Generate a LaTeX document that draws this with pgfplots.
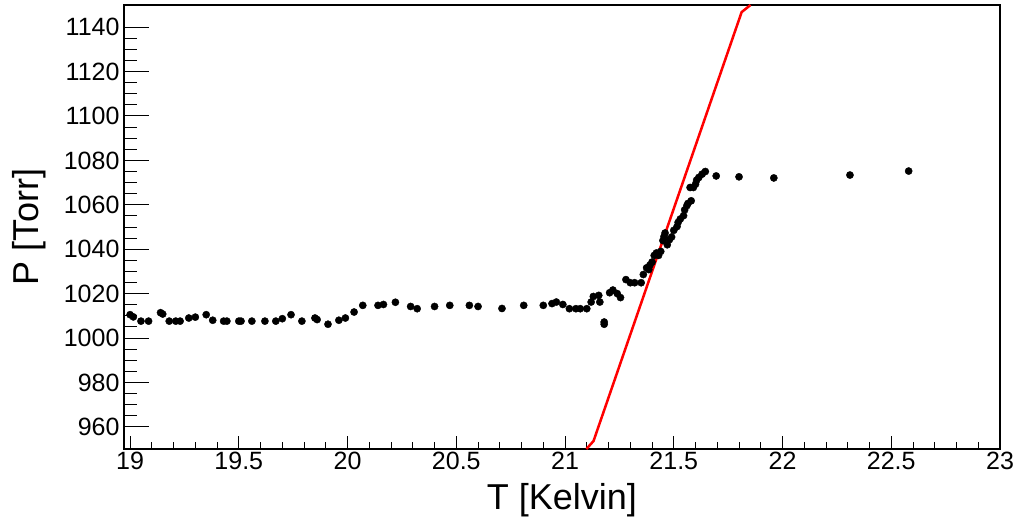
\documentclass[border=0pt]{standalone}
\usepackage{pgfplots}
\pgfplotsset{compat=1.18}
\usepackage{fontspec}
\setmainfont{Liberation Sans}
\begin{document}
\begin{tikzpicture}
\path[use as bounding box] (-124pt,-76pt) rectangle (894pt,449pt);
\begin{axis}[
  at={(0,0)}, anchor=south west,
  scale only axis, width=876pt, height=444pt,
  xmin=18.972, xmax=23, ymin=950, ymax=1150,
  xtick={19,19.5,...,23}, minor x tick num=4,
  ytick={960,980,...,1140}, minor y tick num=3,
  xticklabels={19,19.5,20,20.5,21,21.5,22,22.5,23},
  scaled ticks=false,
  /pgf/number format/assume math mode=true,
  /pgf/number format/1000 sep={},
  tick align=inside, xtick pos=bottom, ytick pos=left,
  x tick style={/pgfplots/major tick length=13pt,/pgfplots/minor tick length=7pt, line width=1pt, black},
  y tick style={/pgfplots/major tick length=25pt,/pgfplots/minor tick length=13pt, line width=1pt, black},
  axis line style={line width=1.5pt},
  tick label style={font=\fontsize{25}{29}\selectfont},
  xticklabel style={yshift=0pt},
  yticklabel style={xshift=-1pt},
  xlabel={T [Kelvin]}, ylabel={P [Torr]},
  every axis x label/.style={at={(axis description cs:0.5,0)}, anchor=center, yshift=-51pt, font=\fontsize{36}{40}\selectfont},
  every axis y label/.style={at={(axis description cs:-0.1085,0.5)}, rotate=90, anchor=center, font=\fontsize{36}{40}\selectfont},
  clip=true,
]
\addplot[red, line width=2.5pt] coordinates {
(21.098,950) (21.131,953.6) (21.812,1146.8) (21.853,1150)
};
\addplot[only marks, mark=*, mark size=3.6pt, black] coordinates {
(19.00,1010.5) (19.015,1009.5) (19.05,1007.6) (19.085,1007.6)
(19.14,1011.4) (19.15,1010.8) (19.18,1007.6) (19.21,1007.6)
(19.23,1007.6) (19.27,1009.0) (19.30,1009.4) (19.35,1010.5)
(19.38,1008.0) (19.43,1007.6) (19.445,1007.6) (19.50,1007.6)
(19.51,1007.6) (19.56,1007.6) (19.62,1007.6) (19.67,1007.6)
(19.70,1008.7) (19.74,1010.5) (19.79,1007.6) (19.85,1009.0)
(19.86,1008.3) (19.91,1006.2) (19.96,1008.0) (19.99,1009.0)
(20.03,1011.7) (20.07,1014.7) (20.14,1014.7) (20.165,1015.1)
(20.22,1016.1) (20.29,1014.2) (20.32,1013.2) (20.40,1014.2)
(20.47,1014.7) (20.56,1014.7) (20.60,1014.2) (20.71,1013.3)
(20.81,1014.7) (20.90,1014.7) (20.94,1015.5) (20.96,1016.2)
(20.99,1015.1) (21.02,1013.2) (21.05,1013.2) (21.07,1013.2)
(21.10,1013.2) (21.12,1016.2) (21.13,1018.7) (21.155,1019.2)
(21.16,1016.2) (21.18,1007.2) (21.18,1006.2) (21.205,1020.4)
(21.22,1021.6) (21.24,1020.0) (21.255,1018.2) (21.28,1026.3)
(21.30,1024.9) (21.32,1024.9) (21.35,1024.9) (21.36,1028.6)
(21.375,1031.6) (21.39,1032.8) (21.385,1030.8) (21.40,1034.2)
(21.41,1037.2) (21.42,1038.3) (21.43,1037.2) (21.44,1039.0)
(21.45,1043.9) (21.455,1045.7) (21.46,1047.3) (21.47,1042.0)
(21.48,1044.3) (21.49,1045.5) (21.50,1048.5) (21.515,1050.2)
(21.52,1052.1) (21.53,1053.6) (21.545,1055.1) (21.55,1057.7)
(21.56,1059.6) (21.565,1060.6) (21.58,1061.8) (21.575,1067.8)
(21.59,1067.8) (21.60,1069.3) (21.605,1071.1) (21.615,1072.3)
(21.63,1073.8) (21.645,1075.0) (21.695,1073.0) (21.80,1072.6)
(21.96,1072.1) (22.31,1073.4) (22.58,1075.2)
};
\end{axis}
\end{tikzpicture}
\end{document}
